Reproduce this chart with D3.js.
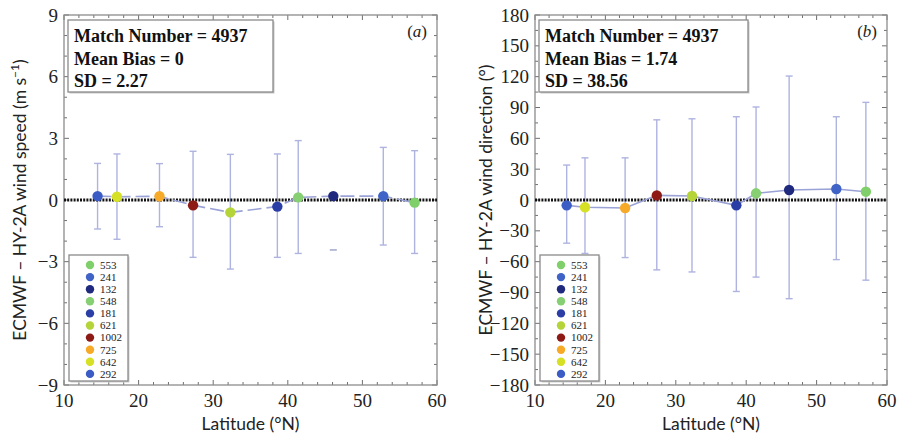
<!DOCTYPE html>
<html>
<head>
<meta charset="utf-8">
<script src="https://cdn.jsdelivr.net/npm/d3@7"></script>
<style>
  body { margin: 0; background: #fff; }
  svg { display: block; }
</style>
</head>
<body>
<svg id="chart" width="899" height="438"></svg>
<script>
// Latitude bins shared by both panels (left to right)
const latitudes = [14.5, 17.1, 22.8, 27.3, 32.3, 38.6, 41.4, 46.1, 52.8, 57.0];
// number of matches in each bin (legend lists them right to left)
const counts = [292, 642, 725, 1002, 621, 181, 548, 132, 241, 553];

// (a) wind speed bias and error bar ends (m/s)
const speedBias = [0.19, 0.16, 0.18, -0.26, -0.6, -0.32, 0.13, 0.19, 0.19, -0.13];
const speedHigh = [1.78, 2.24, 1.77, 2.37, 2.22, 2.24, 2.89, 2.8, 2.56, 2.4];
const speedLow = [-1.41, -1.91, -1.3, -2.79, -3.36, -2.79, -2.6, -2.43, -2.19, -2.6];

// (b) wind direction bias and error bar ends (deg)
const dirBias = [-5.2, -7.1, -7.8, 4.5, 3.9, -5.2, 6.5, 9.7, 10.7, 8.1];
const dirHigh = [34, 41, 41, 78, 79, 81, 90.5, 120.6, 81, 95];
const dirLow = [-42, -52, -56, -68, -70, -89, -75, -96, -58, -78];

const latTicks = [10, 20, 30, 40, 50, 60];
const speedTicks = [-9, -6, -3, 0, 3, 6, 9];
const dirTicks = [-180, -150, -120, -90, -60, -30, 0, 30, 60, 90, 120, 150, 180];

const statsA = ['Match Number = 4937', 'Mean Bias = 0', 'SD = 2.27'];
const statsB = ['Match Number = 4937', 'Mean Bias = 1.74', 'SD = 38.56'];

const color = d3.scaleOrdinal()
    .domain(counts)
    .range(['#3b5cc4', '#d6e024', '#f7a928', '#8e1a16', '#b4d43a',
            '#2b3ea6', '#86cf72', '#1f2a7e', '#3f63c6', '#7fcf6a']);

const SERIF = '"Liberation Serif", "Times New Roman", serif';
const SANS = 'Lato, "Open Sans", sans-serif';

const svg = d3.select('#chart');

function drawPanel(p) {
    const x = d3.scaleLinear().domain([10, 60]).range([p.left, p.right]);
    const y = d3.scaleLinear().domain(p.domain).range([p.bottom, p.top]);
    const g = svg.append('g');

    // minor + major ticks, inward on all four sides
    const tickCol = '#6f6f6f';
    const xMinor = d3.range(10, 60.01, 2);
    const yMinor = d3.range(p.domain[0], p.domain[1] + 0.01, p.minorStep);
    xMinor.forEach(v => {
        const len = latTicks.includes(v) ? 5 : 3;
        g.append('line').attr('x1', x(v)).attr('x2', x(v))
            .attr('y1', p.bottom).attr('y2', p.bottom - len).attr('stroke', tickCol);
        g.append('line').attr('x1', x(v)).attr('x2', x(v))
            .attr('y1', p.top).attr('y2', p.top + len).attr('stroke', tickCol);
    });
    yMinor.forEach(v => {
        const len = p.ticks.includes(Math.round(v)) ? 5 : 3;
        g.append('line').attr('y1', y(v)).attr('y2', y(v))
            .attr('x1', p.left).attr('x2', p.left + len).attr('stroke', tickCol);
        g.append('line').attr('y1', y(v)).attr('y2', y(v))
            .attr('x1', p.right).attr('x2', p.right - len).attr('stroke', tickCol);
    });

    g.append('rect')
        .attr('x', p.left).attr('y', p.top)
        .attr('width', p.right - p.left).attr('height', p.bottom - p.top)
        .attr('fill', 'none').attr('stroke', '#8c8c8c').attr('stroke-width', 1.3);

    // tick labels
    g.selectAll('.ylab').data(p.ticks).enter().append('text')
        .attr('x', p.left - 6).attr('y', d => y(d))
        .attr('dy', '0.35em').attr('text-anchor', 'end')
        .attr('font-family', SERIF).attr('font-size', 19).attr('fill', '#222')
        .text(d => d < 0 ? '\u2212' + Math.abs(d) : d);
    g.selectAll('.xlab').data(latTicks).enter().append('text')
        .attr('x', d => x(d)).attr('y', p.bottom + 22)
        .attr('text-anchor', 'middle')
        .attr('font-family', SERIF).attr('font-size', 19).attr('fill', '#222')
        .text(d => d);

    // axis titles
    g.append('text')
        .attr('transform', `translate(${p.ylabelX},${(p.top + p.bottom) / 2}) rotate(-90)`)
        .attr('text-anchor', 'middle').attr('dy', '0.35em')
        .attr('font-family', SANS).attr('font-size', 17.5).attr('fill', '#222')
        .html(p.ylabel);
    g.append('text')
        .attr('x', (p.left + p.right) / 2).attr('y', p.bottom + 45)
        .attr('text-anchor', 'middle')
        .attr('font-family', SANS).attr('font-size', 17.5).attr('fill', '#222')
        .text('Latitude (°N)');

    // error bars
    const barCol = '#aeb3e0';
    latitudes.forEach((lat, i) => {
        const faint = p.faint.includes(i);
        const cx = x(lat);
        if (!faint) {
            g.append('line').attr('x1', cx).attr('x2', cx)
                .attr('y1', y(p.high[i])).attr('y2', y(p.low[i]))
                .attr('stroke', barCol).attr('stroke-width', 1.4);
        }
        const caps = faint ? [p.low[i]] : [p.high[i], p.low[i]];
        caps.forEach(v => {
            g.append('line').attr('x1', cx - 3.5).attr('x2', cx + 3.5)
                .attr('y1', y(v)).attr('y2', y(v))
                .attr('stroke', faint ? '#9aa0c8' : barCol).attr('stroke-width', 1.4);
        });
    });

    // zero reference line
    g.append('line')
        .attr('x1', p.left).attr('x2', p.right).attr('y1', y(0)).attr('y2', y(0))
        .attr('stroke', '#111').attr('stroke-width', 3.2).attr('stroke-dasharray', '2,1.2');

    // connecting line
    const line = d3.line().x(d => x(d[0])).y(d => y(d[1]));
    g.append('path')
        .datum(latitudes.map((l, i) => [l, p.bias[i]]))
        .attr('d', line).attr('fill', 'none')
        .attr('stroke', '#9aa2d6').attr('stroke-width', 1.6)
        .attr('stroke-dasharray', p.dash);

    // points
    g.selectAll('.pt').data(latitudes).enter().append('circle')
        .attr('cx', d => x(d)).attr('cy', (d, i) => y(p.bias[i]))
        .attr('r', 5.2).attr('fill', (d, i) => color(counts[i]));

    // stats box
    const bx = p.left + 4, by = p.top + 5, bw = p.boxW, bh = 72;
    g.append('rect').attr('x', bx + 1.5).attr('y', by + 1.5).attr('width', bw).attr('height', bh)
        .attr('fill', '#c8c8c8');
    g.append('rect').attr('x', bx).attr('y', by).attr('width', bw).attr('height', bh)
        .attr('fill', '#fff').attr('stroke', '#8a8a8a').attr('stroke-width', 1.3);
    p.stats.forEach((s, i) => {
        g.append('text').attr('x', bx + 6).attr('y', by + 22 + i * 22.5)
            .attr('font-family', SERIF).attr('font-weight', 'bold')
            .attr('font-size', 18).attr('fill', '#111').text(s);
    });
    g.append('text').attr('x', p.right - 10).attr('y', p.top + 22)
        .attr('text-anchor', 'end')
        .attr('font-family', SERIF).attr('font-size', 17).attr('fill', '#222')
        .html('(<tspan font-style="italic">' + p.tag + '</tspan>)');

    // legend (reverse order of latitude bins)
    const lx = p.left + 5, ly = p.bottom - 130, lw = 59, lh = 126;
    g.append('rect').attr('x', lx + 1.5).attr('y', ly + 1.5).attr('width', lw).attr('height', lh)
        .attr('fill', '#cfcfcf');
    g.append('rect').attr('x', lx).attr('y', ly).attr('width', lw).attr('height', lh)
        .attr('fill', '#fff').attr('stroke', '#8a8a8a').attr('stroke-width', 1.3);
    const legendItems = counts.slice().reverse();
    const leg = g.selectAll('.leg').data(legendItems).enter().append('g')
        .attr('transform', (d, i) => `translate(${lx + 21},${ly + 10 + i * 12.1})`);
    leg.append('circle').attr('r', 4.2).attr('fill', d => color(d));
    leg.append('text').attr('x', 10).attr('dy', '0.35em')
        .attr('font-family', SERIF).attr('font-size', 11).attr('fill', '#222')
        .text(d => d);
}

drawPanel({
    left: 64, right: 437, top: 15, bottom: 385,
    domain: [-9, 9], ticks: speedTicks, minorStep: 1,
    bias: speedBias, high: speedHigh, low: speedLow, faint: [7],
    dash: '14,5',
    ylabel: 'ECMWF \u2013 HY-2A wind speed (m s<tspan baseline-shift="super" font-size="12">\u22121</tspan>)',
    ylabelX: 20, stats: statsA, boxW: 205, tag: 'a'
});

drawPanel({
    left: 535, right: 887, top: 15, bottom: 385,
    domain: [-180, 180], ticks: dirTicks, minorStep: 15,
    bias: dirBias, high: dirHigh, low: dirLow, faint: [],
    dash: 'none',
    ylabel: 'ECMWF \u2013 HY-2A wind direction (°)',
    ylabelX: 486, stats: statsB, boxW: 209, tag: 'b'
});
</script>
</body>
</html>
